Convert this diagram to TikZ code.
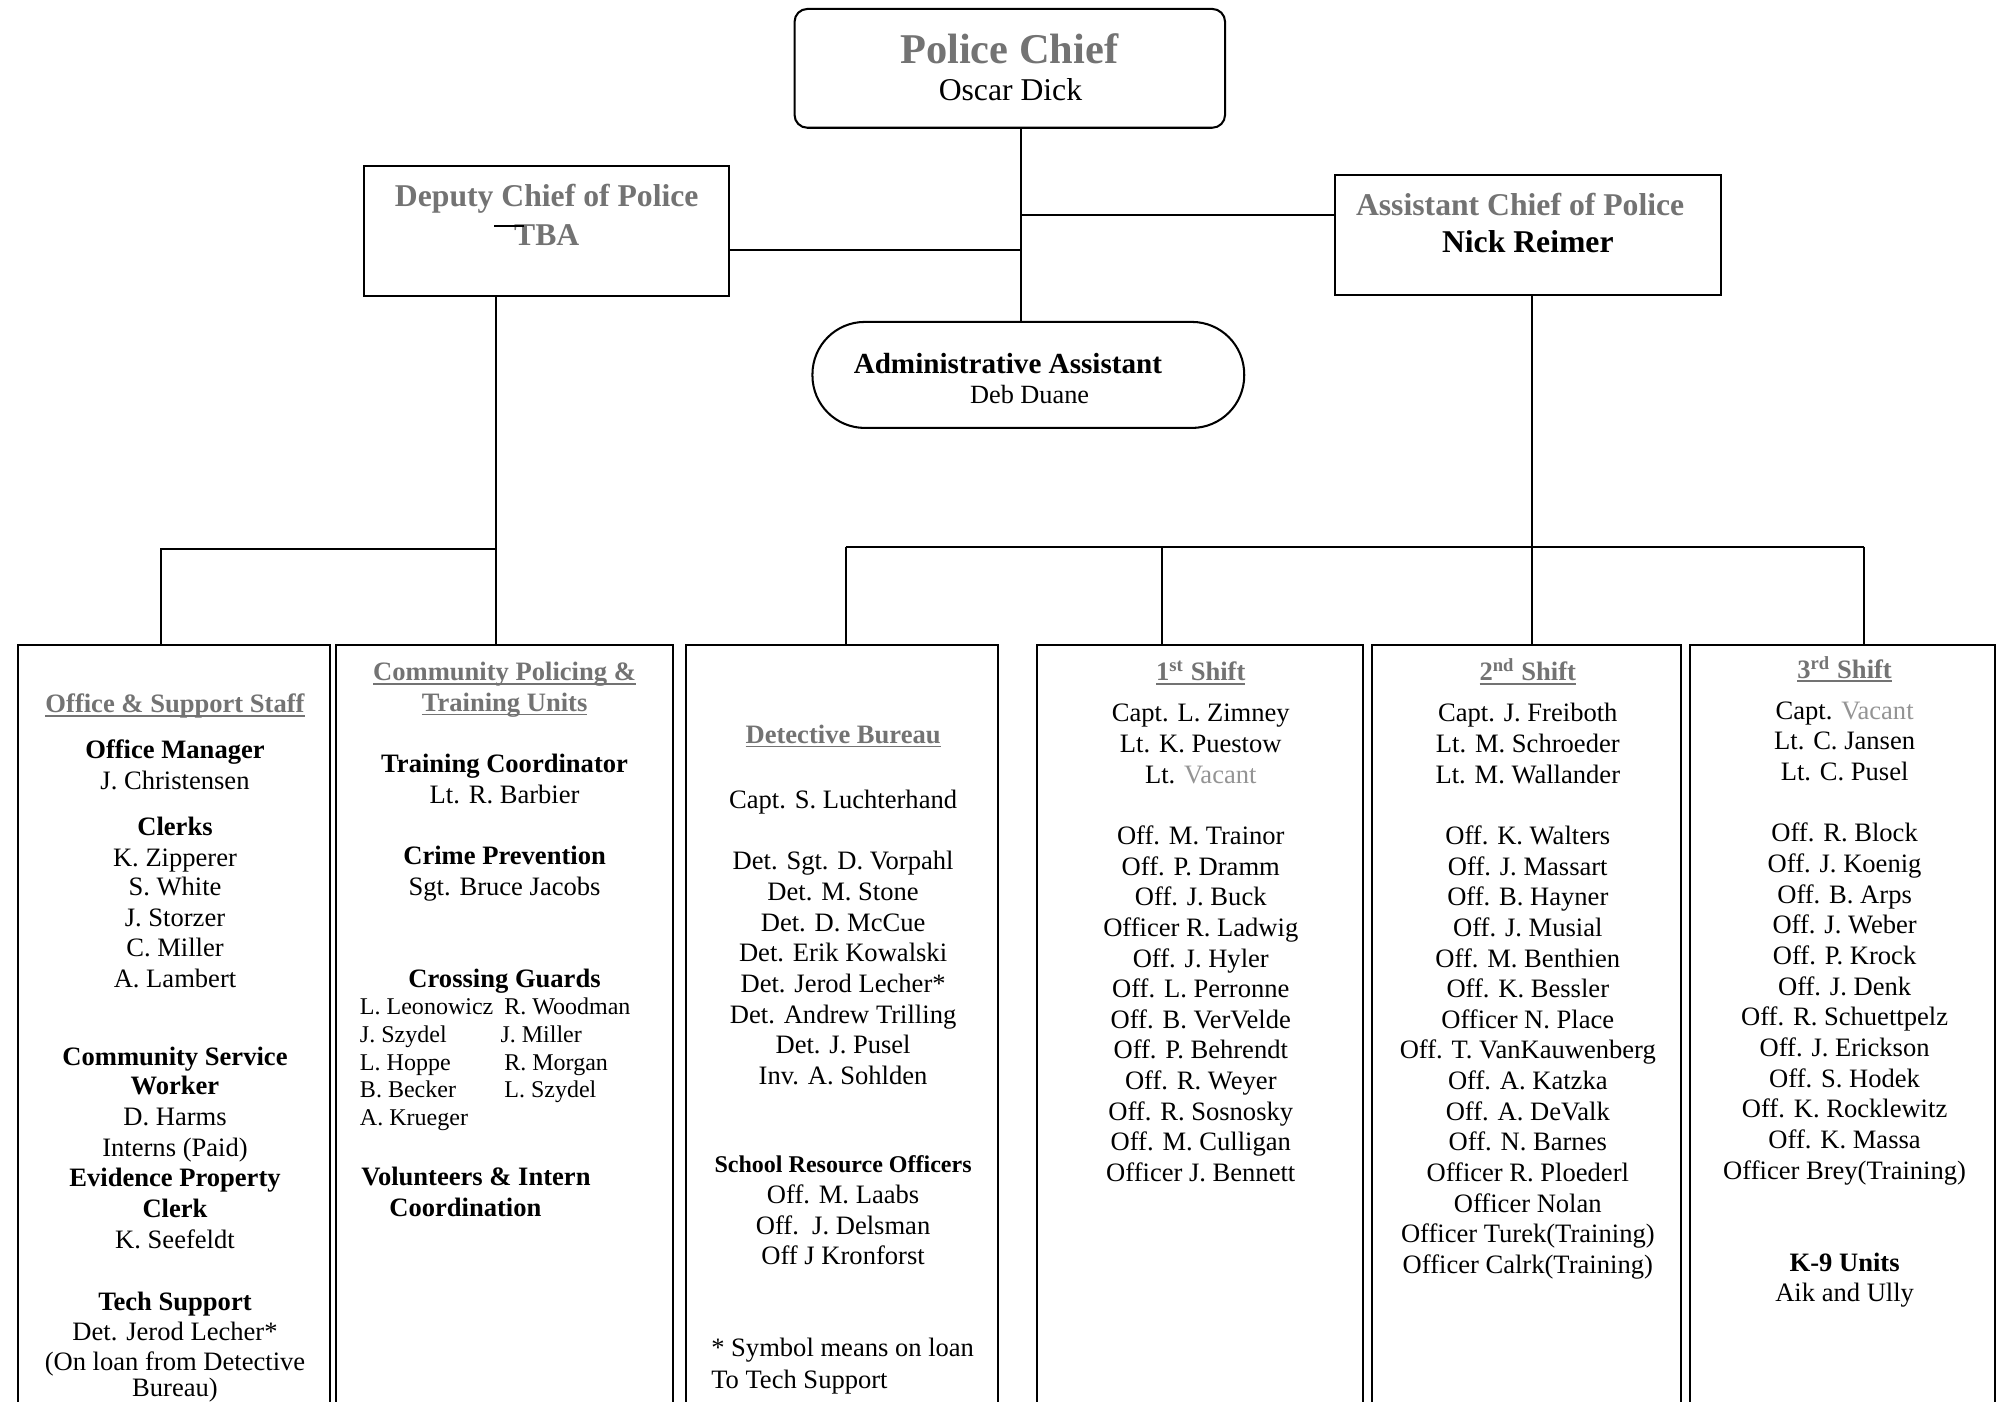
\documentclass[tikz,border=0pt]{standalone}
\usepackage{fontspec}
\setmainfont{Liberation Serif}
\usetikzlibrary{calc,fit}
\definecolor{hgray}{gray}{0.45}
\definecolor{vgray}{gray}{0.58}
\newcommand{\fbody}{\fontsize{10.4}{12}\selectfont}
\newcommand{\fsmallx}{\fontsize{9.4}{11}\selectfont}
\newcommand{\fheadx}{\fontsize{12.4}{14}\selectfont}
\newcommand{\fbigx}{\fontsize{16.6}{19}\selectfont}
\newcommand{\ulx}[1]{\setbox0=\hbox{#1}\rlap{\rule[-1.5pt]{\wd0}{0.65pt}}\box0}
\newcommand{\ttl}[1]{\textcolor{hgray}{\bfseries\ulx{#1}}}
\begin{document}
\begin{tikzpicture}[x=0.5pt,y=-0.5pt,line width=0.8pt,
  box/.style={draw,inner sep=0pt},
  tx/.style={anchor=base,inner sep=0pt,font=\fbody},
  txl/.style={anchor=base west,inner sep=0pt,font=\fbody},
  sm/.style={anchor=base west,inner sep=0pt,font=\fsmallx}]
\useasboundingbox (0,0) rectangle (1568,1097);
\clip (0,0) rectangle (1568,1097);
\fill[white] (0,0) rectangle (1568,1097);

% top boxes
\node[box,rounded corners=5pt,fit={(622,7) (959,100)}] (chief) {};
\node[box,fit={(285,130) (571,232)}] (deputy) {};
\node[box,fit={(1045,137) (1347,231)}] (asst) {};
\node[box,rounded corners=20.5pt,fit={(636,252) (974,335)}] (admin) {};

% bottom boxes
\node[box,fit={(14,505) (258,1110)}] (b1) {};
\node[box,fit={(263,505) (527,1110)}] (b2) {};
\node[box,fit={(537,505) (781,1110)}] (b3) {};
\node[box,fit={(812,505) (1067,1110)}] (b4) {};
\node[box,fit={(1074,505) (1316,1110)}] (b5) {};
\node[box,fit={(1323,505) (1562,1110)}] (b6) {};

% connector coordinates
\coordinate (cx) at (799,0);
\coordinate (dx) at (388,0);
\coordinate (ax) at (1199,0);
\coordinate (hy1) at (0,196);
\coordinate (hy2) at (0,168);
\coordinate (by1) at (0,430);
\coordinate (by2) at (0,428);
\coordinate (b1x) at (126,0);
\coordinate (b3x) at (662,0);
\coordinate (b4x) at (910,0);
\coordinate (b6x) at (1459,0);

\draw (chief.south -| cx) -- (admin.north -| cx);
\draw (deputy.east |- hy1) -- (cx |- hy1);
\draw (cx |- hy2) -- (asst.west |- hy2);
\draw (deputy.south -| dx) -- (b2.north -| dx);
\draw (dx |- by1) -- (b1x |- by1) -- (b1.north -| b1x);
\draw (asst.south -| ax) -- (b5.north -| ax);
\draw (b3x |- by2) -- (b6x |- by2);
\draw (b3x |- by2) -- (b3.north -| b3x);
\draw (b4x |- by2) -- (b4.north -| b4x);
\draw (b6x |- by2) -- (b6.north -| b6x);

% top texts
\node[anchor=base,inner sep=0pt,font=\fbigx\bfseries,text=hgray] (pc) at (790,50) {Police Chief};
\node[anchor=base,inner sep=0pt,font=\fheadx] (od) at (791,79) {Oscar Dick};
\node[anchor=base,inner sep=0pt,font=\fheadx\bfseries,text=hgray] (dc) at (428,162) {Deputy Chief of Police};
\node[anchor=base,inner sep=0pt,font=\fheadx\bfseries,text=hgray] (tba) at (428,192) {TBA};
\draw[line width=0.6pt] (387,177) -- (410,177);
\node[anchor=base,inner sep=0pt,font=\fheadx\bfseries,text=hgray] (ac) at (1190,169) {Assistant Chief of Police};
\node[anchor=base,inner sep=0pt,font=\fheadx\bfseries] (nr) at (1196,198) {Nick Reimer};
\node[anchor=base,inner sep=0pt,font=\fontsize{11.4}{13}\selectfont\bfseries] (aa) at (789,292) {Administrative Assistant};
\node[anchor=base,inner sep=0pt,font=\fontsize{10.3}{12}\selectfont] (dd) at (806,316) {Deb Duane};

% box 1
\foreach \y/\t in {551/{\ttl{Office \& Support Staff}},587/{\bfseries Office Manager},611/{J. Christensen},
  647/{\bfseries Clerks},671/{K. Zipperer},694/{S. White},718/{J. Storzer},742/{C. Miller},766/{A. Lambert},
  827/{\bfseries Community Service},850/{\bfseries Worker},874/{D. Harms},898/{Interns (Paid)},
  922/{\bfseries Evidence Property},946/{\bfseries Clerk},970/{K. Seefeldt},
  1019/{\bfseries Tech Support},1042/{Det. Jerod Lecher*},1066/{(On loan from Detective},1086/{Bureau)}}
  \node[tx] (ba\y) at (137,\y+7) {\t};

% box 2
\foreach \y/\t in {526/{\ttl{Community Policing \&}},550/{\ttl{Training Units}},
  598/{\bfseries Training Coordinator},622/{Lt. R. Barbier},670/{\bfseries Crime Prevention},694/{Sgt. Bruce Jacobs},
  766/{\bfseries Crossing Guards}}
  \node[tx] (bb\y) at (395,\y+7) {\t};
\foreach \y/\t in {788/{L. Leonowicz},810/{J. Szydel},832/{L. Hoppe},853/{B. Becker},875/{A. Krueger}}
  \node[sm] (bc\y) at (281,\y+6) {\t};
\foreach \y/\t/\x in {788/{R. Woodman}/394,810/{J. Miller}/391,832/{R. Morgan}/394,853/{L. Szydel}/394}
  \node[sm] (bd\y) at (\x,\y+6) {\t};
\node[txl,font=\fbody\bfseries] (vol) at (282,928) {Volunteers \& Intern};
\node[txl,font=\fbody\bfseries] (coo) at (304,952) {Coordination};

% box 3
\node[tx] (db) at (660,582) {\ttl{Detective Bureau}};
\node[tx] (lu) at (660,633) {Capt. S. Luchterhand};
\foreach \t [count=\i from 0] in {Det. Sgt. D. Vorpahl,Det. M. Stone,Det. D. McCue,Det. Erik Kowalski,
  Det. Jerod Lecher*,Det. Andrew Trilling,Det. J. Pusel,Inv. A. Sohlden}
  \node[tx] (de\i) at (660,681+24*\i) {\t};
\node[tx,font=\fsmallx\bfseries] (sro) at (660,918) {School Resource Officers};
\node[tx] (sr1) at (660,942) {Off. M. Laabs};
\node[tx] (sr2) at (660,966) {Off.\ \ J. Delsman};
\node[tx] (sr3) at (660,990) {Off J Kronforst};
\node[txl] (nt1) at (556,1062) {* Symbol means on loan};
\node[txl] (nt2) at (556,1087) {To Tech Support};

% box 4
\node[tx] (s1) at (940,533) {\ttl{1\textsuperscript{st} Shift}};
\node[tx] (s1a) at (940,565) {Capt. L. Zimney};
\node[tx] (s1b) at (940,589) {Lt. K. Puestow};
\node[tx] (s1c) at (940,613) {Lt. \textcolor{vgray}{Vacant}};
\foreach \t [count=\i from 0] in {Off. M. Trainor,Off. P. Dramm,Off. J. Buck,Officer R. Ladwig,Off. J. Hyler,
  Off. L. Perronne,Off. B. VerVelde,Off. P. Behrendt,Off. R. Weyer,Off. R. Sosnosky,Off. M. Culligan,Officer J. Bennett}
  \node[tx] (s1o\i) at (940,661+24*\i) {\t};

% box 5
\node[tx] (s2) at (1196,533) {\ttl{2\textsuperscript{nd} Shift}};
\node[tx] (s2a) at (1196,565) {Capt. J. Freiboth};
\node[tx] (s2b) at (1196,589) {Lt. M. Schroeder};
\node[tx] (s2c) at (1196,613) {Lt. M. Wallander};
\foreach \t [count=\i from 0] in {Off. K. Walters,Off. J. Massart,Off. B. Hayner,Off. J. Musial,Off. M. Benthien,
  Off. K. Bessler,Officer N. Place,Off. T. VanKauwenberg,Off. A. Katzka,Off. A. DeValk,Off. N. Barnes,
  Officer R. Ploederl,Officer Nolan,Officer Turek(Training),Officer Calrk(Training)}
  \node[tx] (s2o\i) at (1196,661+24*\i) {\t};

% box 6
\node[tx] (s3) at (1444,531) {\ttl{3\textsuperscript{rd} Shift}};
\node[tx] (s3a) at (1444,563) {Capt. \textcolor{vgray}{Vacant}};
\node[tx] (s3b) at (1444,587) {Lt. C. Jansen};
\node[tx] (s3c) at (1444,611) {Lt. C. Pusel};
\foreach \t [count=\i from 0] in {Off. R. Block,Off. J. Koenig,Off. B. Arps,Off. J. Weber,Off. P. Krock,
  Off. J. Denk,Off. R. Schuettpelz,Off. J. Erickson,Off. S. Hodek,Off. K. Rocklewitz,Off. K. Massa,Officer Brey(Training)}
  \node[tx] (s3o\i) at (1444,659+24*\i) {\t};
\node[tx,font=\fbody\bfseries] (k9) at (1444,995) {K-9 Units};
\node[tx] (k9n) at (1444,1019) {Aik and Ully};
\end{tikzpicture}
\end{document}
